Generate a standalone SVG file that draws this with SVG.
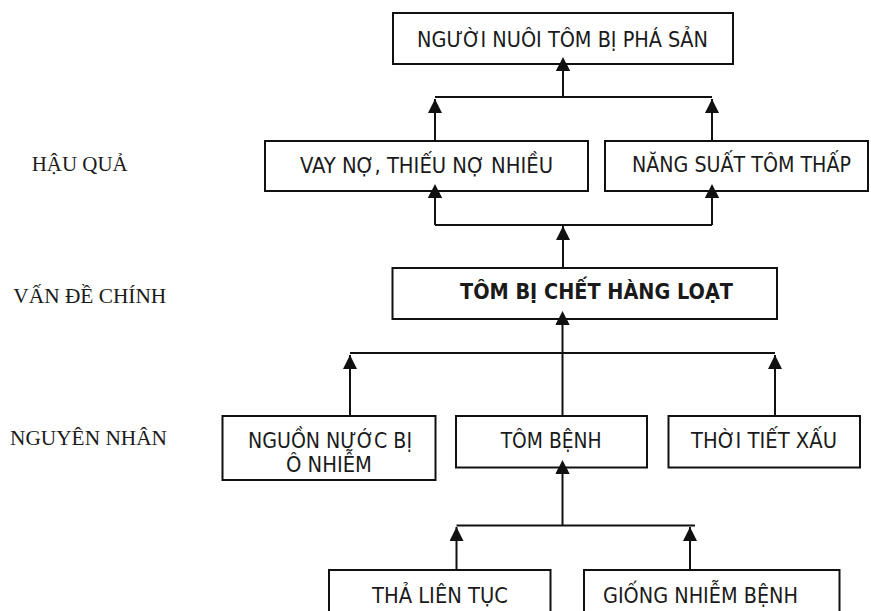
<svg xmlns="http://www.w3.org/2000/svg" width="871" height="611" viewBox="0 0 871 611">
<style>
.box{fill:#fff;stroke:#111;stroke-width:2}
.t{font-family:"DejaVu Sans Condensed","DejaVu Sans",sans-serif;font-size:21px;fill:#1a1a1a}
.b{font-weight:bold}
.lbl{font-family:"Liberation Serif","Times New Roman",serif;font-size:20px;fill:#1a1a1a}
.c{fill:none;stroke:#111;stroke-width:2}
</style>
<defs>
<marker id="arr" markerUnits="userSpaceOnUse" markerWidth="16" markerHeight="16" refX="14" refY="7" orient="auto">
<path d="M0,0 L14,7 L0,14 z" fill="#111"/>
</marker>
</defs>
<rect width="871" height="611" fill="#fff"/>
<g id="labels">
<text class="lbl" x="31.7" y="171" textLength="96" lengthAdjust="spacingAndGlyphs">HẬU QUẢ</text>
<text class="lbl" x="13.3" y="302.7" textLength="153" lengthAdjust="spacingAndGlyphs">VẤN ĐỀ CHÍNH</text>
<text class="lbl" x="10" y="445" textLength="157" lengthAdjust="spacingAndGlyphs">NGUYÊN NHÂN</text>
</g>
<g id="connectors">
<polyline class="c" points="435,97 712,97"/>
<line class="c" x1="563" y1="97" x2="563" y2="57" marker-end="url(#arr)"/>
<line class="c" x1="435" y1="140" x2="435" y2="99" marker-end="url(#arr)"/>
<line class="c" x1="712" y1="140" x2="712" y2="99" marker-end="url(#arr)"/>
<polyline class="c" points="435,225 712,225"/>
<line class="c" x1="563" y1="268" x2="563" y2="226" marker-end="url(#arr)"/>
<line class="c" x1="435" y1="225" x2="435" y2="184" marker-end="url(#arr)"/>
<line class="c" x1="712" y1="225" x2="712" y2="184" marker-end="url(#arr)"/>
<polyline class="c" points="350,353 775,353"/>
<line class="c" x1="562.5" y1="416" x2="562.5" y2="311" marker-end="url(#arr)"/>
<line class="c" x1="350" y1="416" x2="350" y2="355" marker-end="url(#arr)"/>
<line class="c" x1="775" y1="416" x2="775" y2="355" marker-end="url(#arr)"/>
<polyline class="c" points="456.5,525.5 695,525.5"/>
<line class="c" x1="562.5" y1="525.5" x2="562.5" y2="460" marker-end="url(#arr)"/>
<line class="c" x1="456.5" y1="570" x2="456.5" y2="527" marker-end="url(#arr)"/>
<line class="c" x1="690" y1="570" x2="690" y2="527" marker-end="url(#arr)"/>
</g>
<g id="n-top">
<rect class="box" x="393" y="13" width="340" height="51"/>
</g>
<g id="n-vay">
<rect class="box" x="265" y="141" width="323" height="50"/>
</g>
<g id="n-nang">
<rect class="box" x="605" y="141" width="263" height="50"/>
</g>
<g id="n-main">
<rect class="box" x="392.5" y="268" width="384.5" height="51"/>
</g>
<g id="n-nguon">
<rect class="box" x="222.5" y="416" width="213" height="64"/>
</g>
<g id="n-tombenh">
<rect class="box" x="456" y="416" width="191" height="51.5"/>
</g>
<g id="n-thoitiet">
<rect class="box" x="668.5" y="416" width="191.5" height="51.5"/>
</g>
<g id="n-tha">
<rect class="box" x="329" y="570" width="221.5" height="50"/>
</g>
<g id="n-giong">
<rect class="box" x="584" y="570" width="255.5" height="50"/>
</g>
<g id="arrowtips">
<path d="M556,71 L563,57 L570,71 z" fill="#111"/>
<path d="M428,198 L435,184 L442,198 z" fill="#111"/>
<path d="M705,198 L712,184 L719,198 z" fill="#111"/>
<path d="M555.5,325 L562.5,311 L569.5,325 z" fill="#111"/>
<path d="M555.5,474 L562.5,460 L569.5,474 z" fill="#111"/>
</g>
<g id="texts">
<text class="t" x="417" y="47" textLength="291" lengthAdjust="spacingAndGlyphs">NGƯỜI NUÔI TÔM BỊ PHÁ SẢN</text>
<text class="t" x="300" y="172.5" textLength="253" lengthAdjust="spacingAndGlyphs">VAY NỢ, THIẾU NỢ NHIỀU</text>
<text class="t" x="632" y="172" textLength="219" lengthAdjust="spacingAndGlyphs">NĂNG SUẤT TÔM THẤP</text>
<text class="t b" x="460" y="299" textLength="273" lengthAdjust="spacingAndGlyphs">TÔM BỊ CHẾT HÀNG LOẠT</text>
<text class="t" x="248" y="447.5" textLength="164" lengthAdjust="spacingAndGlyphs">NGUỒN NƯỚC BỊ</text>
<text class="t" x="286" y="472" textLength="86" lengthAdjust="spacingAndGlyphs">Ô NHIỄM</text>
<text class="t" x="500.7" y="447.5" textLength="101" lengthAdjust="spacingAndGlyphs">TÔM BỆNH</text>
<text class="t" x="691" y="447.5" textLength="146" lengthAdjust="spacingAndGlyphs">THỜI TIẾT XẤU</text>
<text class="t" x="372" y="603" textLength="136" lengthAdjust="spacingAndGlyphs">THẢ LIÊN TỤC</text>
<text class="t" x="603" y="603" textLength="195" lengthAdjust="spacingAndGlyphs">GIỐNG NHIỄM BỆNH</text>
</g>
</svg>
